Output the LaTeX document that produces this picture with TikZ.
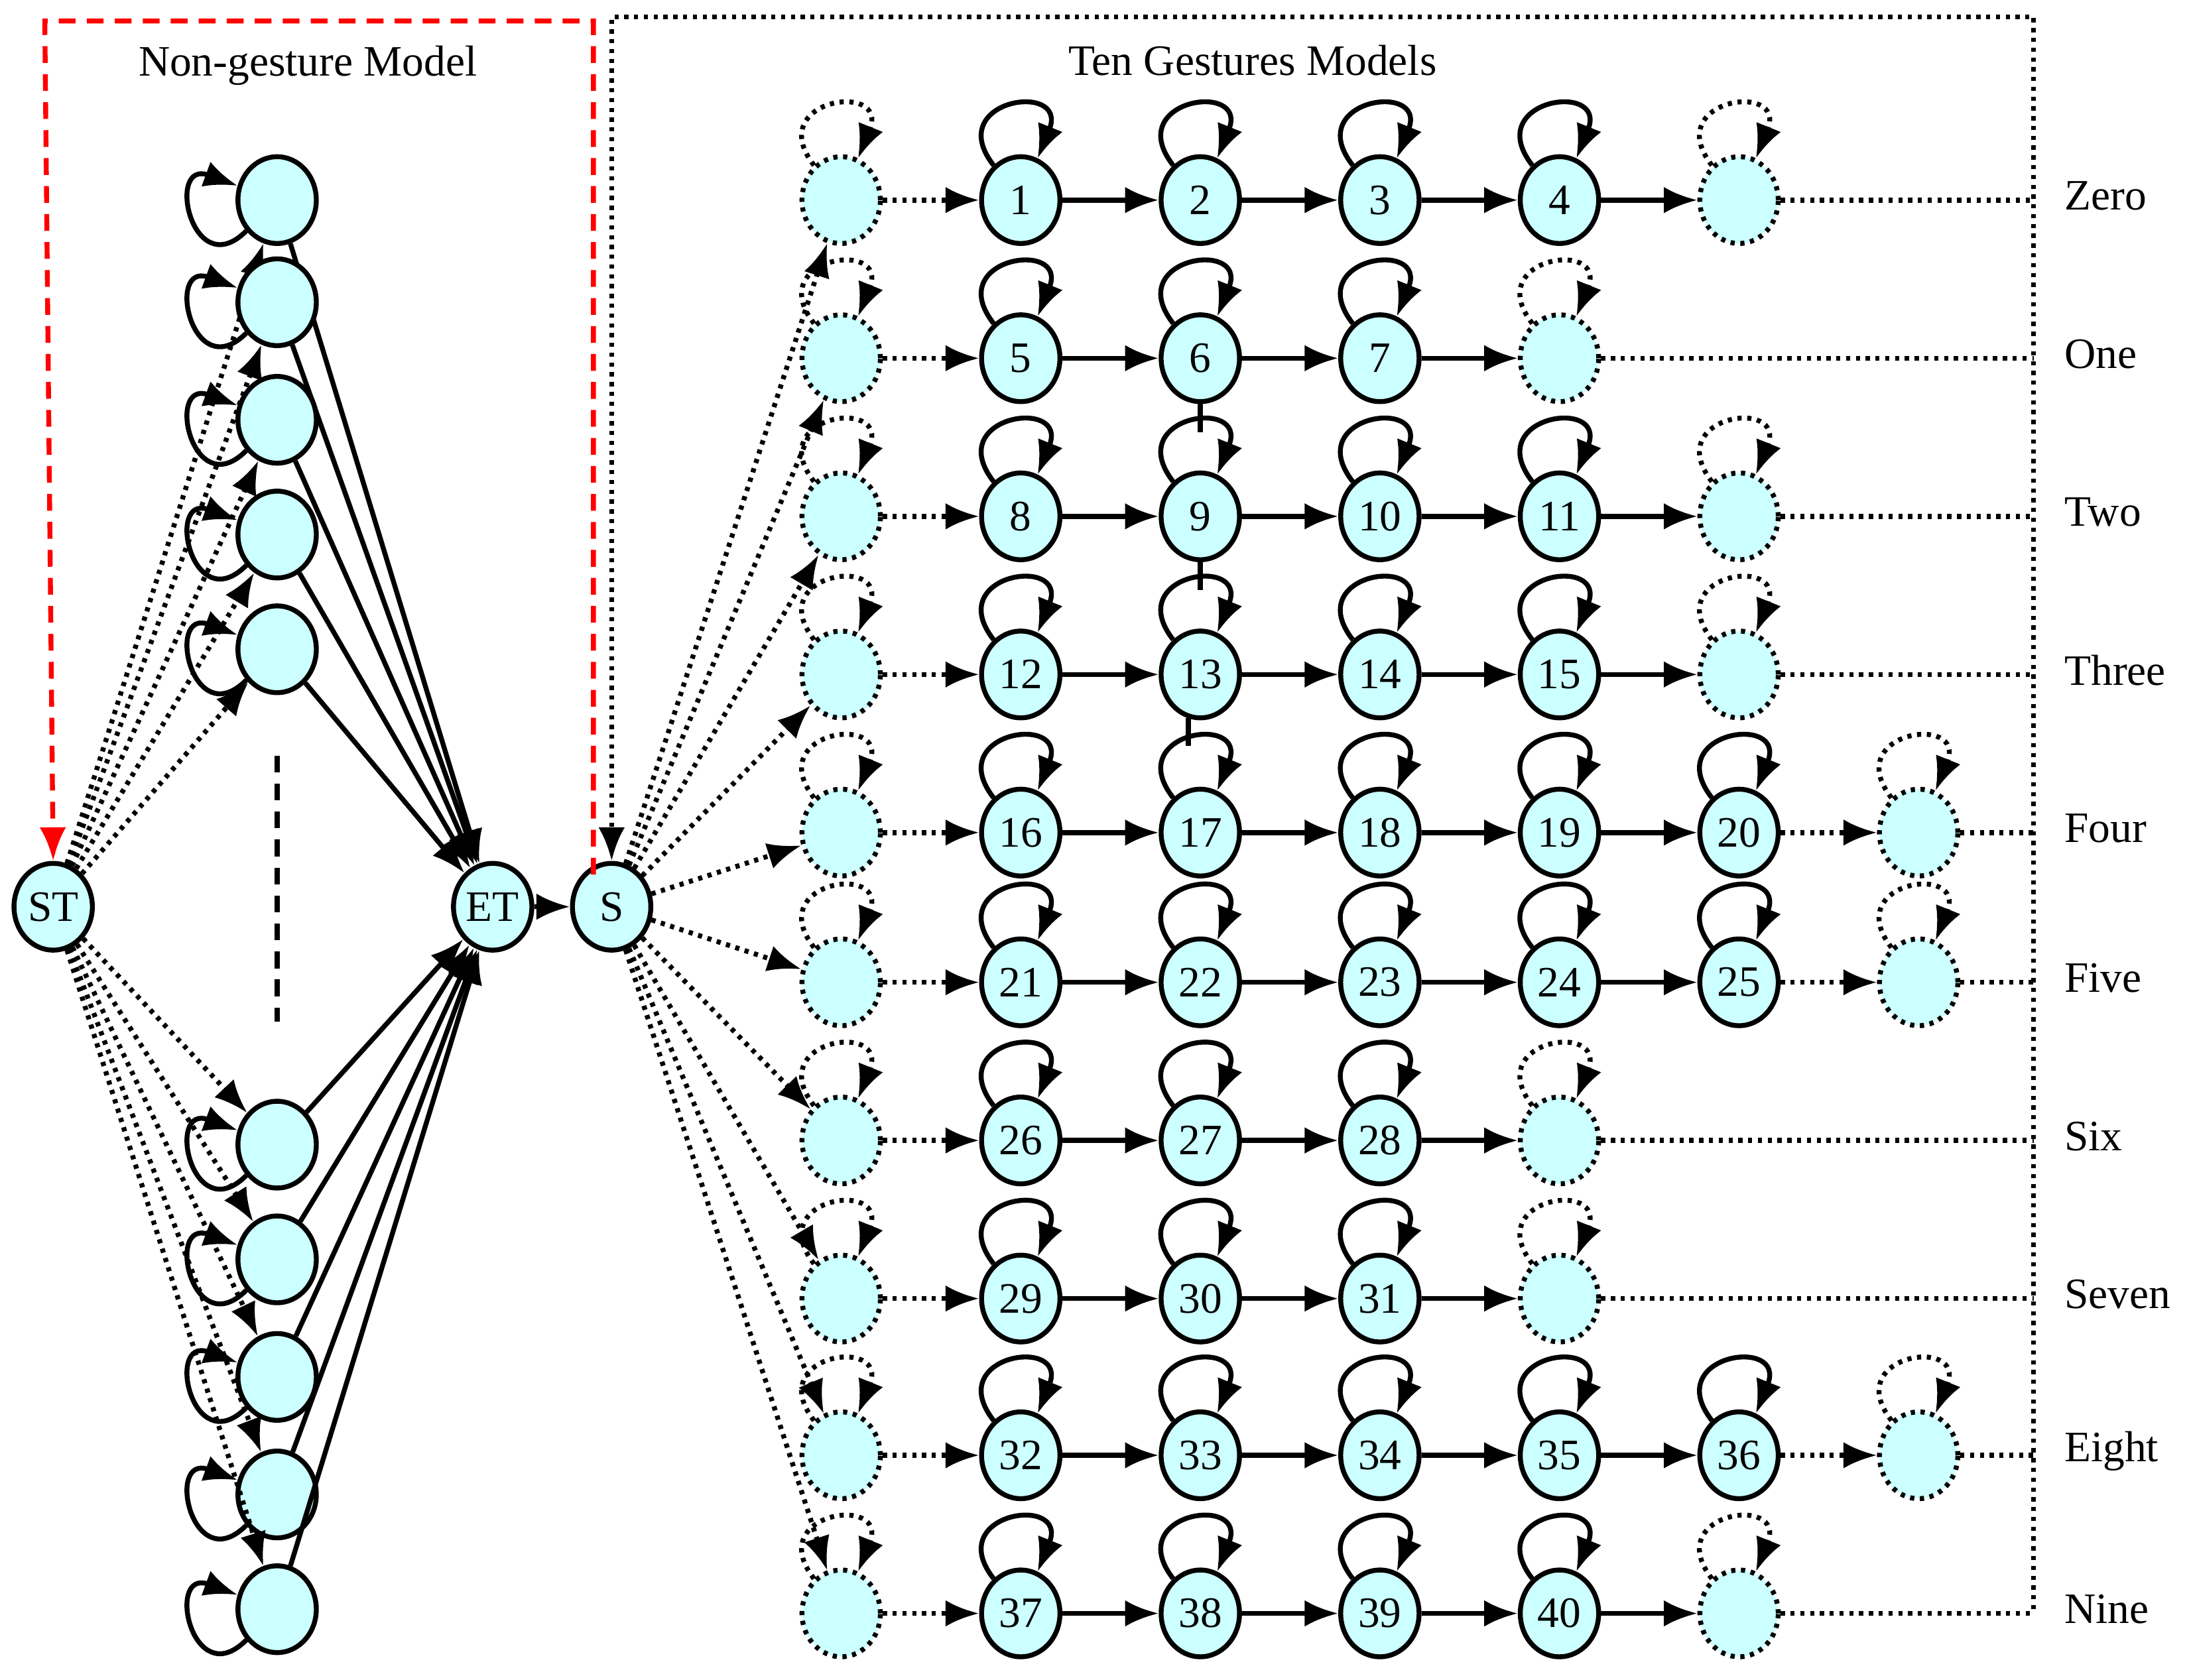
\documentclass[tikz,border=0pt]{standalone}
\usepackage{fontspec}
\setmainfont{Liberation Serif}
\usetikzlibrary{arrows.meta,shapes.geometric}
\definecolor{cy}{RGB}{204,255,255}
\begin{document}
\begin{tikzpicture}[x=1pt,y=-1pt,line width=3.5pt,
 snode/.style={draw,fill=cy,ellipse,minimum width=56pt,minimum height=62pt,inner sep=0pt,font=\fontsize{31}{31}\selectfont},
 dnode/.style={snode,dash pattern=on 3pt off 4pt},
 dot/.style={dash pattern=on 3pt off 4pt},
 arr/.style={-{Latex[length=24pt,width=19pt]}},
 lp/.style={arr,loop,out=128,in=68,looseness=1,min distance=60pt},
 llp/.style={arr,loop,out=225,in=160,min distance=55pt},
 lab/.style={anchor=west,font=\fontsize{31}{31}\selectfont}]
\useasboundingbox (0,0) rectangle (1564,1200.6);
\node[snode] (ST) at (38,648) {ST};
\node[snode] (ET) at (352,648) {ET};
\node[snode] (S) at (437,648) {S};
\draw[arr] (ET) -- (S);
\node[font=\fontsize{31}{31}\selectfont] (t1) at (220,47) {Non-gesture Model};
\node[font=\fontsize{31}{31}\selectfont] (t2) at (895,43) {Ten Gestures Models};
\coordinate (r1) at (424,625); \coordinate (r2) at (424,15); \coordinate (r3) at (32,15);
\draw[red,arr,dash pattern=on 12pt off 8pt] (r1) -- (r2) -- (r3) -- (ST.north);
\coordinate (b1) at (1453,1150); \coordinate (b2) at (1453,12); \coordinate (b3) at (437,12);
\draw[arr,dot] (b1) -- (b2) -- (b3) -- (S.north);
\foreach \i/\y in {1/143,2/216,3/300,4/382,5/464,6/818,7/900,8/984,9/1068,10/1150}{
 \node[snode] (L\i) at (198,\y) {};
 \path (L\i) edge[llp] (L\i);
 \draw[arr,dot] (ST) -- (L\i);
 \draw[arr] (L\i) -- (ET);
}
\coordinate (d1) at (198,540); \coordinate (d2) at (198,730);
\draw[dash pattern=on 12pt off 8pt] (d1) -- (d2);
\foreach \r/\y/\n/\f/\lab in {1/143/4/1/Zero,2/256/3/5/One,3/369/4/8/Two,4/482/4/12/Three,5/595/5/16/Four,6/702/5/21/Five,7/815/3/26/Six,8/928/3/29/Seven,9/1040/5/32/Eight,10/1153/4/37/Nine}{
 \node[dnode] (s\r) at (601,\y) {};
 \path (s\r) edge[lp,dot] (s\r);
 \draw[arr,dot] (S) -- (s\r);
 \foreach \k in {1,...,\n}{
  \pgfmathtruncatemacro\num{\f+\k-1}
  \pgfmathsetmacro\xx{601+128.3*\k}
  \node[snode] (n\r-\k) at (\xx,\y) {\num};
  \path (n\r-\k) edge[lp] (n\r-\k);
  \ifnum\k=1 \draw[arr,dot] (s\r) -- (n\r-1);
  \else \pgfmathtruncatemacro\pk{\k-1}\draw[arr] (n\r-\pk) -- (n\r-\k); \fi
 }
 \pgfmathsetmacro\ex{601+128.3*(\n+1)}
 \node[dnode] (e\r) at (\ex,\y) {};
 \path (e\r) edge[lp,dot] (e\r);
 \ifnum\n=5 \draw[arr,dot] (n\r-\n) -- (e\r); \else \draw[arr] (n\r-\n) -- (e\r); \fi
 \coordinate (q\r) at (1453,\y);
 \draw[dot] (e\r) -- (q\r);
 \node[lab] (lab\r) at (1470,\y-3) {\lab};
}
\draw (n2-2.south) -- ++(0,20);
\draw (n3-2.south) -- ++(0,20);
\draw (849,513) -- (849,533);
\end{tikzpicture}
\end{document}
